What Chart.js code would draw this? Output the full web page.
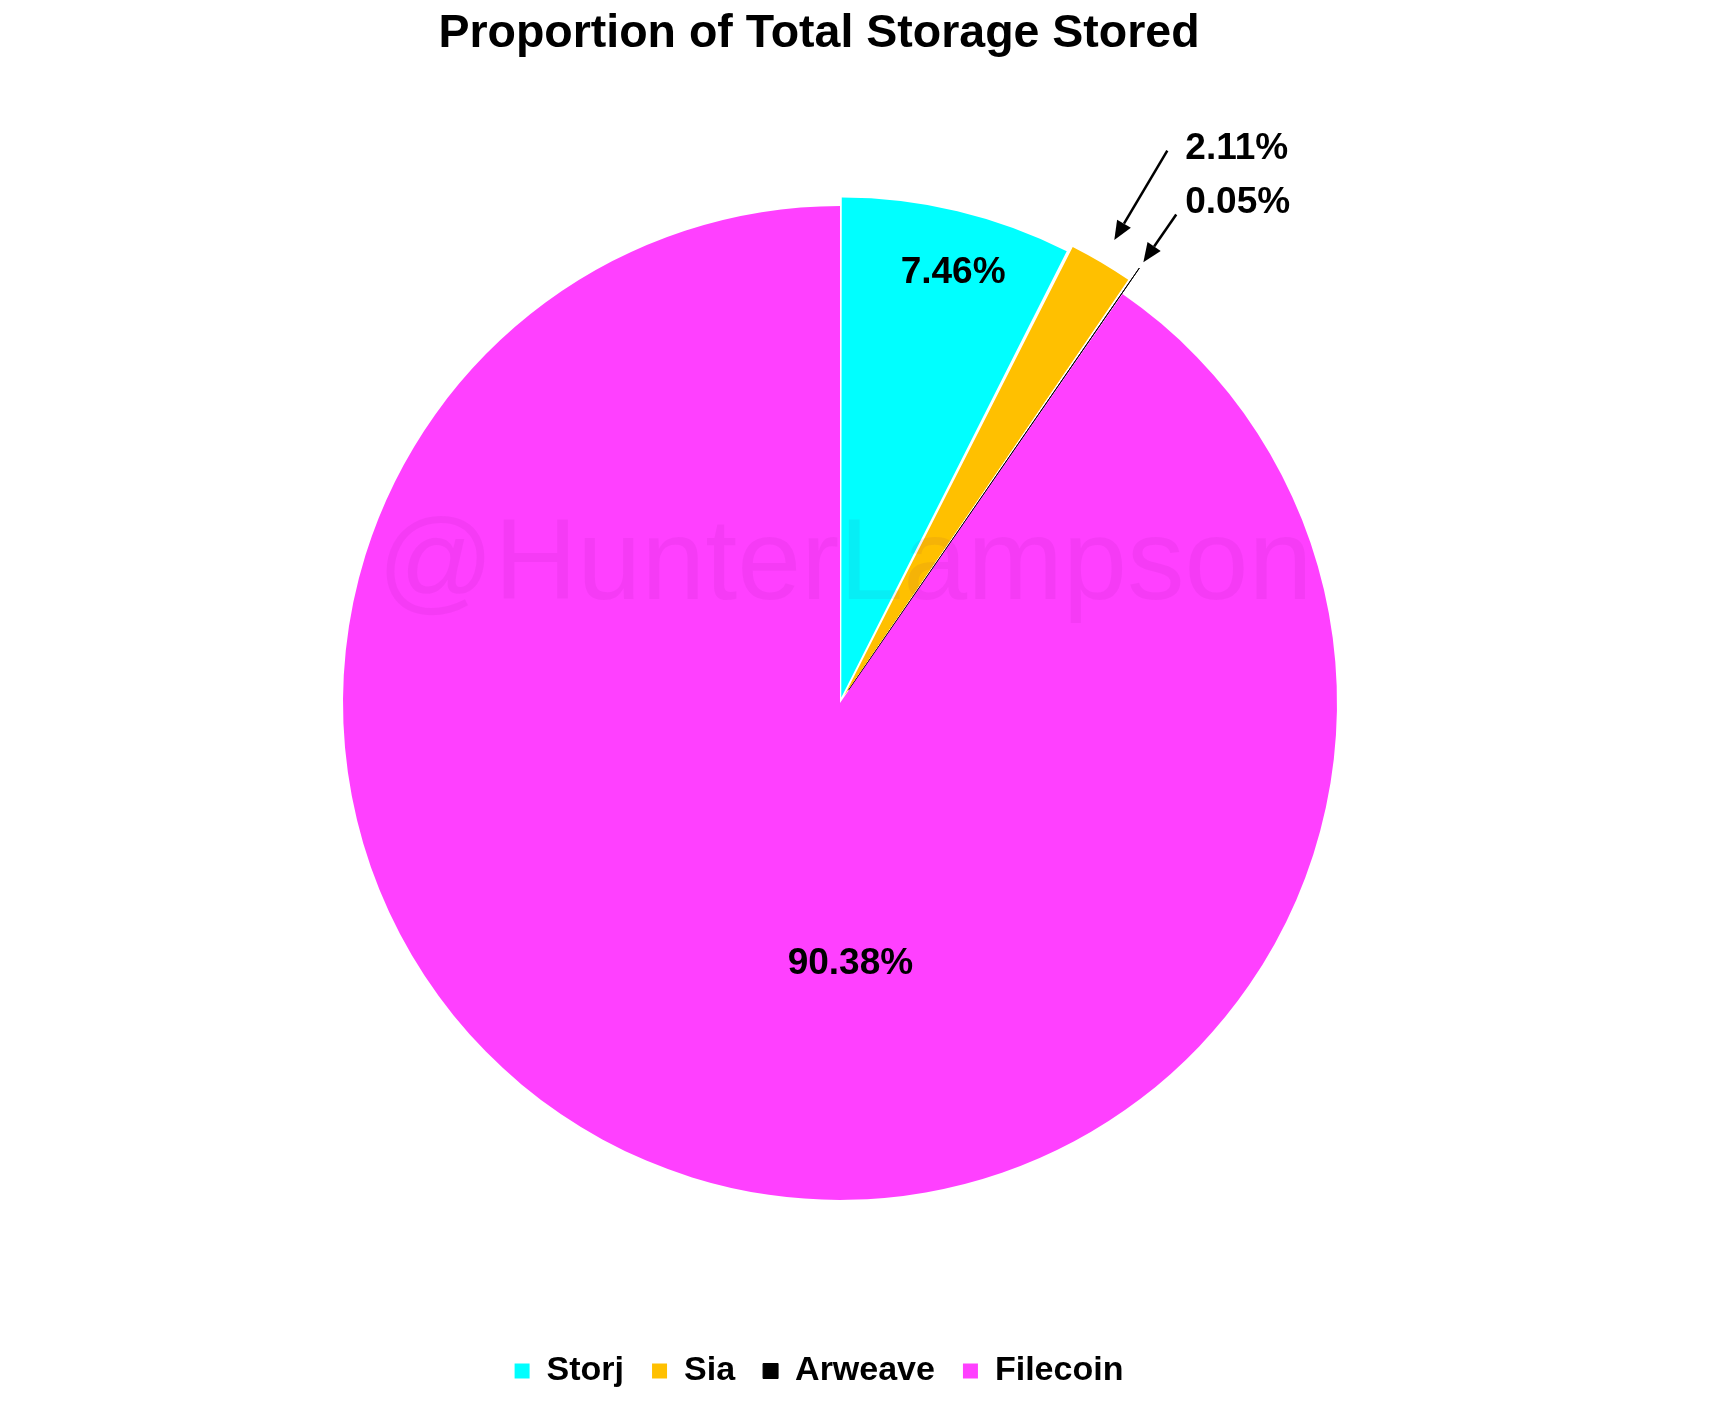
<!DOCTYPE html>
<html>
<head>
<meta charset="utf-8">
<title>Proportion of Total Storage Stored</title>
<script src="https://cdn.jsdelivr.net/npm/chart.js@4.4.0/dist/chart.umd.min.js"></script>
<style>
    html, body { margin: 0; padding: 0; background: #ffffff; }
    #wrap { position: relative; width: 1714px; height: 1414px; }
</style>
</head>
<body>
<div id="wrap"><canvas id="storageChart"></canvas></div>
<script>
// Data
const labels = ['Storj', 'Sia', 'Arweave', 'Filecoin'];
const shares = [7.46, 2.11, 0.05, 90.38];
const colors = ['#00ffff', '#ffc000', '#000000', '#ff40ff'];
// Chart.js moves an arc out by offset / 2
const explode = [22, 32, 62, 0];

const FONT = '"Liberation Sans", Arial, Helvetica, sans-serif';
Chart.defaults.font.family = FONT;
Chart.defaults.color = '#000000';

// Where each percentage goes (inside the slice, or outside with an arrow)
const labelPlacement = [
    { inside: true, dAngle: 1.3, rFrac: 0.895 },
    { inside: false, gap: 25, len: 104, dx: 18, dy: -2 },
    { inside: false, gap: 7, len: 58, dx: 9, dy: -12 },
    { inside: true, dAngle: -19.6, rFrac: 0.525 }
];

// Pie sits a little right of the title / legend centre
const PIE_SHIFT_X = 21;
const shiftPie = {
    id: 'shiftPie',
    afterLayout(chart) {
        chart.chartArea.left += PIE_SHIFT_X;
        chart.chartArea.right += PIE_SHIFT_X;
    }
};

function drawArrow(ctx, x0, y0, x1, y1) {
    const ang = Math.atan2(y1 - y0, x1 - x0);
    const head = 19, half = 8;
    const bx = x1 - Math.cos(ang) * head;
    const by = y1 - Math.sin(ang) * head;
    ctx.beginPath();
    ctx.moveTo(x0, y0);
    ctx.lineTo(bx, by);
    ctx.lineWidth = 2.5;
    ctx.strokeStyle = '#000';
    ctx.stroke();
    ctx.beginPath();
    ctx.moveTo(x1, y1);
    ctx.lineTo(bx + Math.sin(ang) * half, by - Math.cos(ang) * half);
    ctx.lineTo(bx - Math.sin(ang) * half, by + Math.cos(ang) * half);
    ctx.closePath();
    ctx.fillStyle = '#000';
    ctx.fill();
}

// Watermark + percentage labels
const sliceLabels = {
    id: 'sliceLabels',
    afterDatasetsDraw(chart) {
        const ctx = chart.ctx;
        const arcs = chart.getDatasetMeta(0).data;
        if (!arcs.length) return;
        ctx.save();

        const c = arcs[0].getProps(['x', 'y'], true);
        ctx.font = '115px ' + FONT;
        ctx.textAlign = 'center';
        ctx.textBaseline = 'alphabetic';
        ctx.fillStyle = 'rgba(110, 0, 110, 0.065)';
        ctx.fillText('@HunterLampson', c.x + 5, c.y - 104);

        arcs.forEach((arc, i) => {
            const p = arc.getProps(['x', 'y', 'startAngle', 'endAngle', 'outerRadius'], true);
            const mid = (p.startAngle + p.endAngle) / 2;
            const place = labelPlacement[i];
            const text = shares[i].toFixed(2) + '%';
            ctx.font = 'bold 37px ' + FONT;
            ctx.fillStyle = '#000';
            if (place.inside) {
                const a = mid + place.dAngle * Math.PI / 180;
                const d = p.outerRadius * place.rFrac;
                ctx.textAlign = 'center';
                ctx.textBaseline = 'middle';
                ctx.fillText(text, p.x + Math.cos(a) * d, p.y + Math.sin(a) * d);
            } else {
                const off = (arc.options.offset || 0) / 2;
                const r0 = p.outerRadius + off + place.gap;
                const r1 = r0 + place.len;
                const tipX = p.x + Math.cos(mid) * r0, tipY = p.y + Math.sin(mid) * r0;
                const tailX = p.x + Math.cos(mid) * r1, tailY = p.y + Math.sin(mid) * r1;
                drawArrow(ctx, tailX, tailY, tipX, tipY);
                ctx.fillStyle = '#000';
                ctx.textAlign = 'left';
                ctx.textBaseline = 'middle';
                ctx.fillText(text, tailX + place.dx, tailY + place.dy);
            }
        });
        ctx.restore();
    }
};

const ctx = document.getElementById('storageChart');
new Chart(ctx, {
    type: 'pie',
    data: {
        labels: labels,
        datasets: [{
            data: shares,
            backgroundColor: colors,
            borderColor: ['#ffffff', '#ffffff', '#000000', '#ffffff'],
            borderWidth: [0, 0, 1, 0],
            offset: explode,
            clip: false
        }]
    },
    options: {
        responsive: true,
        maintainAspectRatio: false,
        animation: false,
        events: [],
        radius: 497,
        layout: {
            padding: { top: 0, right: 76, bottom: 16, left: 0 }
        },
        plugins: {
            title: {
                display: true,
                text: 'Proportion of Total Storage Stored',
                color: '#000',
                font: { size: 46.5, weight: 'bold' },
                padding: { top: 6, bottom: 18 }
            },
            legend: {
                position: 'bottom',
                labels: {
                    boxWidth: 15,
                    boxHeight: 15,
                    padding: 28,
                    color: '#000',
                    font: { size: 34, weight: 'bold' }
                }
            },
            tooltip: { enabled: false }
        }
    },
    plugins: [shiftPie, sliceLabels]
});
</script>
</body>
</html>
